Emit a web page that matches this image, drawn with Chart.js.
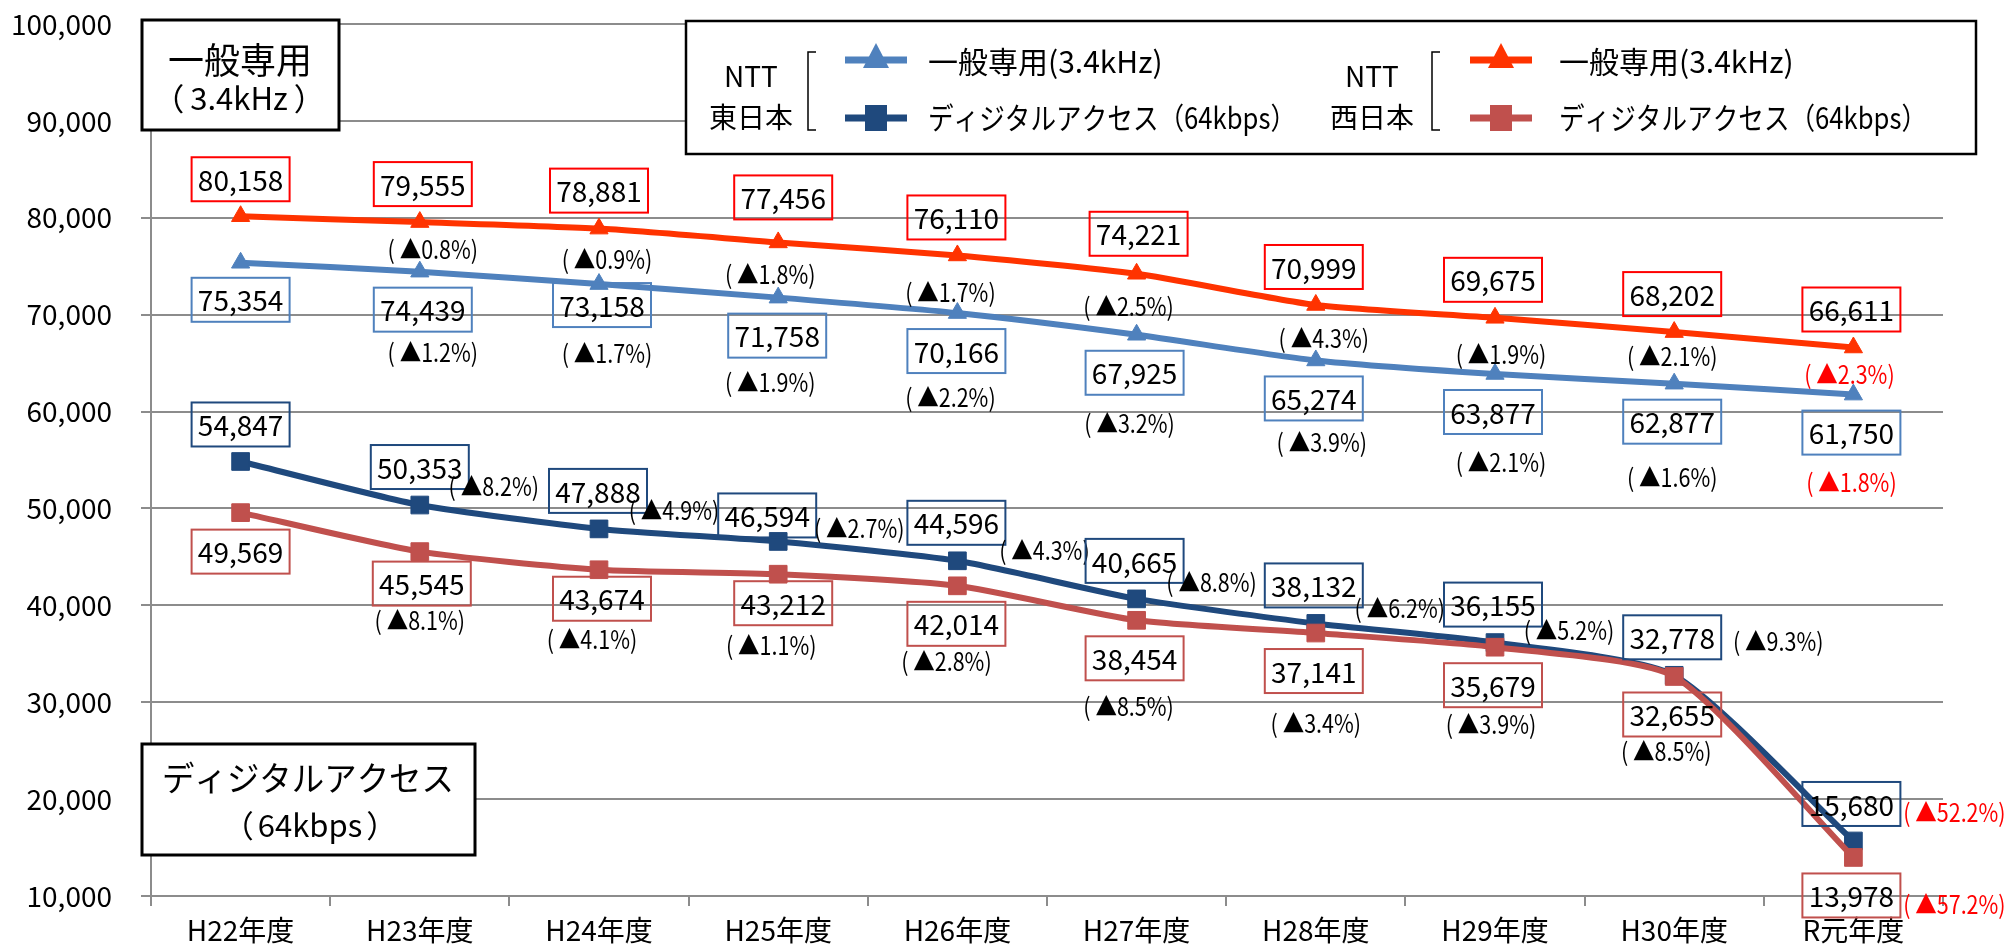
<!DOCTYPE html>
<html><head><meta charset="utf-8">
<script src="https://cdn.jsdelivr.net/npm/chart.js@4.4.1/dist/chart.umd.min.js"></script>
<style>html,body{margin:0;padding:0;background:#fff}#wrap{width:2007px;height:951px;position:relative}</style>
</head><body><div id="wrap"><canvas id="c" width="2007" height="951"></canvas></div>
<script>
// ---------- DATA ----------
const categories = ['H22年度','H23年度','H24年度','H25年度','H26年度','H27年度','H28年度','H29年度','H30年度','R元年度'];
const westGeneral = [80158, 79555, 78881, 77456, 76110, 74221, 70999, 69675, 68202, 66611];
const eastGeneral = [75354, 74439, 73158, 71758, 70166, 67925, 65274, 63877, 62877, 61750];
const eastDigital = [54847, 50353, 47888, 46594, 44596, 40665, 38132, 36155, 32778, 15680];
const westDigital = [49569, 45545, 43674, 43212, 42014, 38454, 37141, 35679, 32655, 13978];
const westGeneralPct = [null,'▲0.8%','▲0.9%','▲1.8%','▲1.7%','▲2.5%','▲4.3%','▲1.9%','▲2.1%','▲2.3%'];
const eastGeneralPct = [null,'▲1.2%','▲1.7%','▲1.9%','▲2.2%','▲3.2%','▲3.9%','▲2.1%','▲1.6%','▲1.8%'];
const eastDigitalPct = [null,'▲8.2%','▲4.9%','▲2.7%','▲4.3%','▲8.8%','▲6.2%','▲5.2%','▲9.3%','▲52.2%'];
const westDigitalPct = [null,'▲8.1%','▲4.1%','▲1.1%','▲2.8%','▲8.5%','▲3.4%','▲3.9%','▲8.5%','▲57.2%'];
const seriesNames = ['一般専用(3.4kHz)','ディジタルアクセス（64kbps）'];
const yMin = 10000, yMax = 100000, yStep = 10000;

// ---------- STYLE ----------
const FF = "'Noto Sans CJK JP','Noto Sans',sans-serif";
const C_WG = '#FF3300', C_EG = '#4F81BD', C_ED = '#1F497D', C_WD = '#C0504D';
const GRID = '#8c8c8c';
// label offsets (pixels from the point) – placement style only
const offWGv = [[0,-37],[3,-38],[0,-38],[5,-45],[-1,-38],[2,-40],[-2,-38],[-2,-38],[-2,-38],[-2,-38]];
const offWGp = [null,[13,26],[8,30],[-8,31],[-7,36],[-8,32],[8,33],[6,36],[-2,23],[-4,26]];
const offEGv = [[0,37],[3,38],[3,21],[-1,38],[-1,38],[-2,38],[-2,38],[-2,38],[-2,38],[-2,38]];
const offEGp = [null,[13,80],[8,68],[-8,84],[-7,83],[-7,88],[6,81],[6,88],[-2,93],[-2,87]];
const offEDv = [[0,-37],[0,-38],[-1,-38],[-11,-26],[-1,-38],[-2,-38],[-2,-38],[-2,-38],[-2,-38],[-2,-37]];
const offEDp = [null,[74,-20],[75,-19],[81,-14],[87,-11],[75,-17],[84,-16],[74,-13],[104,-35],[101,-29]];
const offWDv = [[0,39],[2,32],[3,29],[5,29],[-1,38],[-2,38],[-2,38],[-2,38],[-2,38],[-2,38]];
const offWDp = [null,[0,68],[-7,69],[-7,70],[-11,75],[-8,85],[0,89],[-4,76],[-8,74],[101,46]];

const fmt = v => v.toLocaleString('en-US');

function parenText(ctx, inner, cx, cy, font, gap) {
  ctx.font = font;
  ctx.textAlign = 'center';
  const w = ctx.measureText(inner).width;
  ctx.fillText(inner, cx, cy);
  ctx.textAlign = 'right';
  ctx.fillText('（', cx - w / 2 - gap, cy);
  ctx.textAlign = 'left';
  ctx.fillText('）', cx + w / 2 + gap, cy);
  ctx.textAlign = 'center';
}

const labelPlugin = {
  id: 'labels',
  afterDatasetsDraw(chart) {
    const ctx = chart.ctx;
    const groups = [
      {ds: 0, data: westDigital, pct: westDigitalPct, ov: offWDv, op: offWDp, col: C_WD},
      {ds: 1, data: westGeneral, pct: westGeneralPct, ov: offWGv, op: offWGp, col: '#FF0000'},
      {ds: 2, data: eastDigital, pct: eastDigitalPct, ov: offEDv, op: offEDp, col: C_ED},
      {ds: 3, data: eastGeneral, pct: eastGeneralPct, ov: offEGv, op: offEGp, col: C_EG},
    ];
    ctx.save();
    groups.forEach(g => {
      const meta = chart.getDatasetMeta(g.ds);
      g.data.forEach((v, i) => {
        const p = meta.data[i];
        const cx = p.x + g.ov[i][0], cy = p.y + g.ov[i][1];
        ctx.lineWidth = 2;
        ctx.strokeStyle = g.col;
        ctx.strokeRect(cx - 49, cy - 22, 98, 44);
        ctx.fillStyle = '#000';
        ctx.font = '28px ' + FF;
        ctx.textAlign = 'center';
        ctx.textBaseline = 'middle';
        ctx.fillText(fmt(v), cx, cy + 1);
        if (g.pct[i]) {
          const px = p.x + g.op[i][0], py = p.y + g.op[i][1];
          ctx.save();
          ctx.translate(px, py);
          ctx.scale(0.86, 1);
          ctx.font = '25px ' + FF;
          ctx.fillStyle = (i === g.data.length - 1) ? '#FF0000' : '#000';
          ctx.fillText('( ' + g.pct[i] + ')', 0, 1);
          ctx.restore();
        }
      });
    });
    ctx.restore();
  },
  afterDraw(chart) {
    const ctx = chart.ctx;
    ctx.save();
    // top-left annotation
    ctx.fillStyle = '#fff'; ctx.strokeStyle = '#000'; ctx.lineWidth = 3;
    ctx.fillRect(142, 20, 197, 110); ctx.strokeRect(142, 20, 197, 110);
    ctx.fillStyle = '#000'; ctx.textAlign = 'center'; ctx.textBaseline = 'middle';
    ctx.font = '36px ' + FF; ctx.fillText('一般専用', 240, 60);
    parenText(ctx, '3.4kHz', 239, 98, '31px ' + FF, 6);
    // bottom-left annotation
    ctx.fillStyle = '#fff';
    ctx.fillRect(142, 744, 333, 111); ctx.strokeRect(142, 744, 333, 111);
    ctx.fillStyle = '#000';
    ctx.font = '34px ' + FF; ctx.fillText('ディジタルアクセス', 308, 778, 292);
    parenText(ctx, '64kbps', 310, 825, '31px ' + FF, 4);
    // legend box
    ctx.fillStyle = '#fff'; ctx.lineWidth = 2.5;
    ctx.fillRect(686, 21, 1290, 133); ctx.strokeRect(686, 21, 1290, 133);
    const grp = [
      {cx: 751, bx: 808, mx0: 845, mx1: 907, tx: 928, a: '東日本', c1: C_EG, c2: C_ED},
      {cx: 1372, bx: 1432, mx0: 1470, mx1: 1532, tx: 1559, a: '西日本', c1: C_WG, c2: C_WD},
    ];
    grp.forEach(g => {
      ctx.fillStyle = '#000'; ctx.textAlign = 'center';
      ctx.font = '28px ' + FF;
      ctx.fillText('NTT', g.cx, 76);
      ctx.fillText(g.a, g.cx, 117);
      ctx.strokeStyle = '#000'; ctx.lineWidth = 1.5;
      ctx.beginPath();
      ctx.moveTo(g.bx + 8, 52); ctx.lineTo(g.bx, 52); ctx.lineTo(g.bx, 130); ctx.lineTo(g.bx + 8, 130);
      ctx.stroke();
      const mc = (g.mx0 + g.mx1) / 2;
      [[60, g.c1, 'tri'], [118, g.c2, 'sq']].forEach(([y, col, st]) => {
        ctx.strokeStyle = col; ctx.lineWidth = 7;
        ctx.beginPath(); ctx.moveTo(g.mx0, y); ctx.lineTo(g.mx1, y); ctx.stroke();
        ctx.fillStyle = col;
        if (st === 'tri') {
          ctx.beginPath(); ctx.moveTo(mc, y - 17); ctx.lineTo(mc + 13, y + 8); ctx.lineTo(mc - 13, y + 8); ctx.closePath(); ctx.fill();
        } else {
          ctx.fillRect(mc - 11, y - 13, 22, 26);
        }
      });
      ctx.fillStyle = '#000'; ctx.textAlign = 'left';
      ctx.font = '30px ' + FF;
      ctx.fillText(seriesNames[0], g.tx, 62, 240);
      ctx.fillText(seriesNames[1], g.tx, 118, 368);
    });
    ctx.restore();
  }
};

const mk = (data, col, style, r) => ({
  data, borderColor: col, backgroundColor: col, borderWidth: 6,
  pointStyle: style, pointRadius: r, pointHoverRadius: r, pointBorderWidth: 1,
  pointBorderColor: col, pointBackgroundColor: col, tension: 0.2, fill: false
});

new Chart(document.getElementById('c'), {
  type: 'line',
  data: {
    labels: categories,
    datasets: [
      mk(westDigital, C_WD, 'rect', 12.5),
      mk(westGeneral, C_WG, 'triangle', 10.5),
      mk(eastDigital, C_ED, 'rect', 12.5),
      mk(eastGeneral, C_EG, 'triangle', 10.5),
    ]
  },
  options: {
    responsive: false, animation: false, devicePixelRatio: 1,
    layout: {padding: {top: 24, right: 64, left: 0, bottom: 0}},
    plugins: {legend: {display: false}, tooltip: {enabled: false}},
    scales: {
      x: {
        offset: true,
        grid: {display: true, drawOnChartArea: false, offset: true, tickLength: 10, color: GRID, lineWidth: 2},
        border: {display: true, color: GRID, width: 2},
        ticks: {font: {family: FF, size: 28}, color: '#000', padding: 8, maxRotation: 0, autoSkip: false},
        afterFit: s => { s.height = 55; s.paddingLeft = 0; s.paddingRight = 0; }
      },
      y: {
        min: yMin, max: yMax,
        grid: {color: GRID, lineWidth: 2, tickLength: 10},
        border: {display: true, color: GRID, width: 2},
        ticks: {stepSize: yStep, font: {family: FF, size: 28}, color: '#000', padding: 29, callback: v => fmt(v)},
        afterFit: s => { s.width = 151; s.paddingTop = 0; s.paddingBottom = 0; }
      }
    }
  },
  plugins: [labelPlugin]
});
</script></body></html>
